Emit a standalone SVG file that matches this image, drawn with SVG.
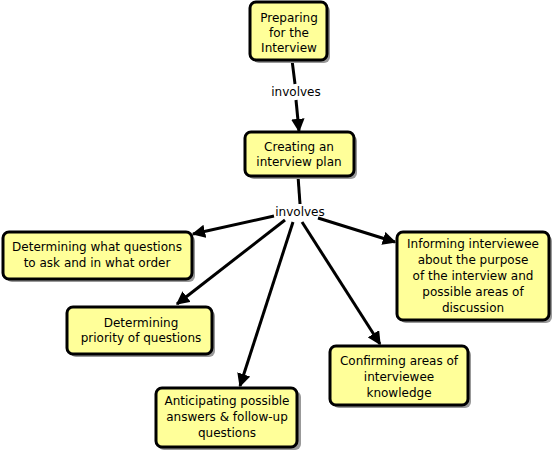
<svg xmlns="http://www.w3.org/2000/svg" width="552" height="452" viewBox="0 0 552 452">
<style>
.sh{fill:#999;}
.bx{fill:#ffff99;stroke:#000;stroke-width:3;}
text{font-family:"DejaVu Sans",Verdana,sans-serif;font-size:12px;fill:#000;text-anchor:middle;}
.ln{stroke:#000;stroke-width:3;fill:none;}
</style>
<defs>
<marker id="ah" viewBox="0 0 10 10" refX="9" refY="5" markerWidth="4.5" markerHeight="4.5" orient="auto" markerUnits="strokeWidth">
<path d="M0,0 L10,5 L0,10 z" fill="#000"/>
</marker>
</defs>
<rect width="552" height="452" fill="#fff"/>
<g id="connectors">
<line class="ln" x1="292" y1="60" x2="295" y2="84"/>
<line class="ln" x1="296" y1="100" x2="299" y2="131" marker-end="url(#ah)"/>
<line class="ln" x1="298" y1="176" x2="300" y2="204"/>
<line class="ln" x1="274" y1="216" x2="193" y2="234" marker-end="url(#ah)"/>
<line class="ln" x1="318" y1="218" x2="395" y2="242" marker-end="url(#ah)"/>
<line class="ln" x1="285" y1="220" x2="177" y2="304" marker-end="url(#ah)"/>
<line class="ln" x1="293" y1="222" x2="240" y2="386" marker-end="url(#ah)"/>
<line class="ln" x1="302" y1="222" x2="380" y2="344" marker-end="url(#ah)"/>
<text x="296" y="96">involves</text>
<text x="300" y="216">involves</text>
</g>
<g id="n1">
<rect class="sh" x="253" y="5" width="77" height="58" rx="6"/>
<rect class="bx" x="250" y="2" width="77" height="58" rx="6"/>
<text x="289" y="22">Preparing</text><text x="289" y="37">for the</text><text x="289" y="52">Interview</text>
</g>
<g id="n2">
<rect class="sh" x="248" y="135" width="109" height="44" rx="6"/>
<rect class="bx" x="245" y="132" width="109" height="44" rx="6"/>
<text x="299" y="151">Creating an</text><text x="299" y="166">interview plan</text>
</g>
<g id="n3">
<rect class="sh" x="6" y="235" width="189" height="47" rx="6"/>
<rect class="bx" x="3" y="232" width="189" height="47" rx="6"/>
<text x="97" y="251">Determining what questions</text><text x="97" y="267">to ask and in what order</text>
</g>
<g id="n4">
<rect class="sh" x="400" y="235" width="152" height="88" rx="6"/>
<rect class="bx" x="397" y="232" width="152" height="88" rx="6"/>
<text x="473" y="248">Informing interviewee</text><text x="473" y="264">about the purpose</text><text x="473" y="280">of the interview and</text><text x="473" y="296">possible areas of</text><text x="473" y="312">discussion</text>
</g>
<g id="n5">
<rect class="sh" x="70" y="310" width="145" height="47" rx="6"/>
<rect class="bx" x="67" y="307" width="145" height="47" rx="6"/>
<text x="141" y="327">Determining</text><text x="141" y="342">priority of questions</text>
</g>
<g id="n6">
<rect class="sh" x="158" y="391" width="143" height="59" rx="6"/>
<rect class="bx" x="156" y="388" width="141" height="59" rx="6"/>
<text x="227" y="405">Anticipating possible</text><text x="227" y="421">answers &amp; follow-up</text><text x="227" y="437">questions</text>
</g>
<g id="n7">
<rect class="sh" x="333" y="349" width="138" height="59" rx="6"/>
<rect class="bx" x="330" y="346" width="138" height="59" rx="6"/>
<text x="399" y="365">Confirming areas of</text><text x="399" y="381">interviewee</text><text x="399" y="397">knowledge</text>
</g>
</svg>
